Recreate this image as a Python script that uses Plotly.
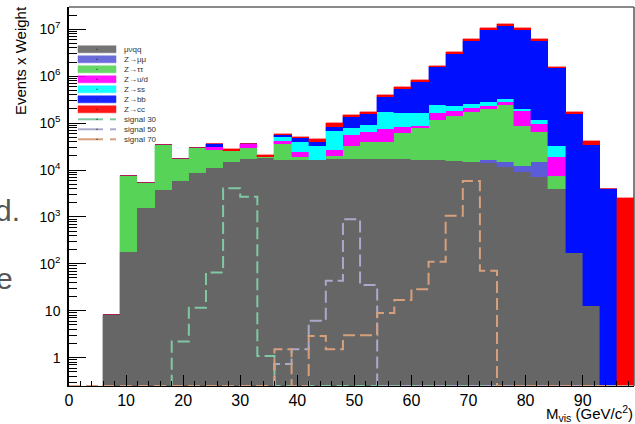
import math
import plotly.graph_objects as go

# 3 GeV bins from 0 to 99 GeV
edges = list(range(0, 100, 3))
centers = [e + 1.5 for e in edges[:-1]]

# Stacked backgrounds, bin contents (events x weight)
munuqq = [0, 0, 8.1, 181, 1570, 3740, 5820, 8500, 11200, 14600, 17000, 18300,
          16300, 16300, 16300, 16900, 16900, 16900, 16900, 17200, 16300, 16300,
          15800, 14600, 13900, 11400, 8930, 7190, 3880, 173, 12.6, 0, 0]
zmumu = [0] * 24 + [2400, 3200, 3470, 7400] + [0] * 5
ztautau = [0, 0, 0, 7270, 3790, 30400, 11100, 21400, 15500, 10800, 12000, 300,
           19000, 2900, 0, 3300, 15580, 22630, 23200, 45200, 61200, 99700,
           128200, 160400, 180700, 228400, 74300, 51000, 3680, 0, 0, 0, 0]
zud = [0, 0, 0, 0, 0, 0, 0, 0, 4700, 0, 6300, 0,
       6200, 5400, 0, 6500, 23260, 25060, 34700, 21400, 9200, 46000,
       37000, 38000, 35000, 43000, 94300, 30100, 11700, 0, 0, 0, 0]
zss = [0, 0, 0, 0, 0, 300, 0, 0, 0, 0, 0, 0,
       9800, 15500, 16200, 41200, 24050, 26500, 100000, 83200, 80300, 81000,
       51000, 42000, 46000, 40000, 19000, 20300, 13800, 0, 0, 0, 0]
zbb = [0, 0, 0, 0, 0, 0, 0, 0, 3900, 0, 0, 0,
       4300, 8700, 7600, 15900, 55150, 65200, 191000, 359000, 597000, 1307000,
       2740000, 5370000, 9380000, 11436000, 9460000, 5590000, 1440000, 156100, 34090, 3880, 0]
zcc = [0, 0, 0, 0, 0, 0, 0, 0, 0, 2200, 0, 1900,
       2100, 2500, 5100, 15300, 13900, 13650, 31000, 48000, 66000, 120000,
       260000, 490000, 840000, 1020000, 840000, 500000, 127000, 13650, 7400, 0, 2570]

# Signal hypotheses (overlaid, not stacked)
signal30 = [0] * 6 + [2.2, 11.6, 65, 4070, 2700, 1.08] + [0] * 21
signal50 = [0] * 12 + [0.73, 1.5, 6.1, 43.6, 890, 35.3] + [0] * 15
signal70 = [0] * 12 + [1.5, 0, 2.9, 1.5, 3.0, 3.0, 8.9, 16.9, 28.6, 111, 1060, 5800, 71] + [0] * 8

stack_names = ["μνqq", "Z→μμ", "Z→ττ", "Z→u/d", "Z→ss", "Z→bb", "Z→cc"]
stack_values = [munuqq, zmumu, ztautau, zud, zss, zbb, zcc]
stack_colors = ["#666666", "#5c5cd8", "#57d357", "#ff00ff", "#00ffff", "#0010ff", "#ff0000"]

signal_names = ["signal 30", "signal 50", "signal 70"]
signal_values = [signal30, signal50, signal70]
signal_colors = ["#80c8a2", "#a9a9cc", "#d6a07c"]

x_range = [0, 99]
y_range = [-0.605, 7.475]  # log10
y_floor = 10 ** y_range[0]

FONT = "Liberation Sans, Arial, Helvetica, sans-serif"

fig = go.Figure()

for name, vals, col in zip(stack_names, stack_values, stack_colors):
    fig.add_trace(go.Bar(
        x=centers, y=vals, width=3, name=name, showlegend=False,
        marker=dict(color=col, line=dict(color=col, width=0.4)),
    ))

# Empty bins of the signals sit on the lower edge of the axis
for name, vals, col in zip(signal_names, signal_values, signal_colors):
    ys = [v if v > 0 else y_floor for v in vals]
    fig.add_trace(go.Scatter(
        x=edges, y=ys + [ys[-1]], mode="lines", name=name, showlegend=False,
        line=dict(shape="hv", color=col, width=2, dash="12px,5px"),
        cliponaxis=False,
    ))

decades = list(range(0, 8))
y_tickvals = [10 ** d for d in decades]
y_ticktext = ["1", "10"] + ["10<sup>%d</sup>" % d for d in decades[2:]]
y_minor = [k * 10 ** d for d in range(-1, 8) for k in range(2, 10)
           if y_range[0] < d + math.log10(k) < y_range[1]]

fig.update_layout(
    width=635, height=424,
    margin=dict(l=69, r=1, t=7, b=38),
    paper_bgcolor="white", plot_bgcolor="white",
    barmode="stack", bargap=0,
    font=dict(family=FONT, color="black"),
    showlegend=False,
    xaxis=dict(
        range=x_range, showgrid=False, zeroline=False,
        showline=True, linecolor="black", linewidth=1,
        ticks="inside", ticklen=11, tickcolor="black", tickwidth=1,
        tickvals=list(range(0, 100, 10)), ticktext=[str(v) for v in range(0, 100, 10)],
        tickfont=dict(size=16, family=FONT),
        minor=dict(dtick=2, tick0=0, ticks="inside", ticklen=5, tickcolor="black", tickwidth=1),
    ),
    yaxis=dict(
        type="log", range=y_range, showgrid=False, zeroline=False,
        showline=True, linecolor="black", linewidth=1.5,
        ticks="inside", ticklen=17, tickcolor="black", tickwidth=1,
        tickvals=y_tickvals, ticktext=y_ticktext,
        tickfont=dict(size=14, family=FONT),
        ticklabelstandoff=4,
        minor=dict(tickvals=y_minor, ticks="inside", ticklen=8, tickcolor="black", tickwidth=1),
    ),
)

# Frame on the top and right sides
fig.add_shape(type="line", xref="paper", yref="paper", x0=0, x1=1, y0=1, y1=1,
              line=dict(color="#8a8a8a", width=2))
fig.add_shape(type="line", xref="paper", yref="paper", x0=1, x1=1, y0=0, y1=1,
              line=dict(color="#555555", width=1.5))

# Legend block in the upper left corner
plot_w, plot_h = 565.0, 379.0
def px_to_paper(px, py):
    return (px - 69) / plot_w, (386 - py) / plot_h

legend_names = stack_names + signal_names
legend_colors = stack_colors + signal_colors
for i, (name, col) in enumerate(zip(legend_names, legend_colors)):
    cy = 49.3 + 10 * i
    xa, ya = px_to_paper(78, cy - 3.5)
    xb, yb = px_to_paper(116, cy + 3.5)
    _, yc = px_to_paper(0, cy)
    if i < len(stack_names):
        fig.add_shape(type="rect", xref="paper", yref="paper", x0=xa, x1=xb, y0=yb, y1=ya,
                      fillcolor=col, line=dict(color=col, width=0.5), opacity=0.9)
    else:
        xm, _ = px_to_paper(103, cy)
        xn, _ = px_to_paper(110, cy)
        fig.add_shape(type="line", xref="paper", yref="paper", x0=xa, x1=xm, y0=yc, y1=yc,
                      line=dict(color=col, width=2))
        fig.add_shape(type="line", xref="paper", yref="paper", x0=xn, x1=xb, y0=yc, y1=yc,
                      line=dict(color=col, width=2))
    xd0, yd0 = px_to_paper(96.5, cy - 0.6)
    xd1, yd1 = px_to_paper(97.5, cy + 0.6)
    fig.add_shape(type="rect", xref="paper", yref="paper", x0=xd0, x1=xd1, y0=yd1, y1=yd0,
                  fillcolor="#222222", line=dict(width=0))
    xt, _ = px_to_paper(122, cy)
    fig.add_annotation(xref="paper", yref="paper", x=xt, y=yc, text=name, showarrow=False,
                       xanchor="left", yanchor="middle", font=dict(size=8, family=FONT, color="#333333"))

# Axis titles
tx, ty = px_to_paper(20, 61)
fig.add_annotation(xref="paper", yref="paper", x=tx, y=ty, text="Events x Weight",
                   textangle=-90, showarrow=False, xanchor="center", yanchor="middle",
                   font=dict(size=15, family=FONT))
tx, ty = px_to_paper(635, 413)
fig.add_annotation(xref="paper", yref="paper", x=tx, y=ty,
                   text="M<sub>vis</sub> (GeV/c<sup>2</sup>)", showarrow=False,
                   xanchor="right", yanchor="middle", font=dict(size=15, family=FONT))

# Slide text running in from the left edge
tx, ty = px_to_paper(22, 210)
fig.add_annotation(xref="paper", yref="paper", x=tx, y=ty, text="d.", showarrow=False,
                   xanchor="right", yanchor="middle", font=dict(size=30, family=FONT, color="#555555"))
tx, ty = px_to_paper(15, 278)
fig.add_annotation(xref="paper", yref="paper", x=tx, y=ty, text="e", showarrow=False,
                   xanchor="right", yanchor="middle", font=dict(size=30, family=FONT, color="#555555"))

fig.write_html("out.html")
